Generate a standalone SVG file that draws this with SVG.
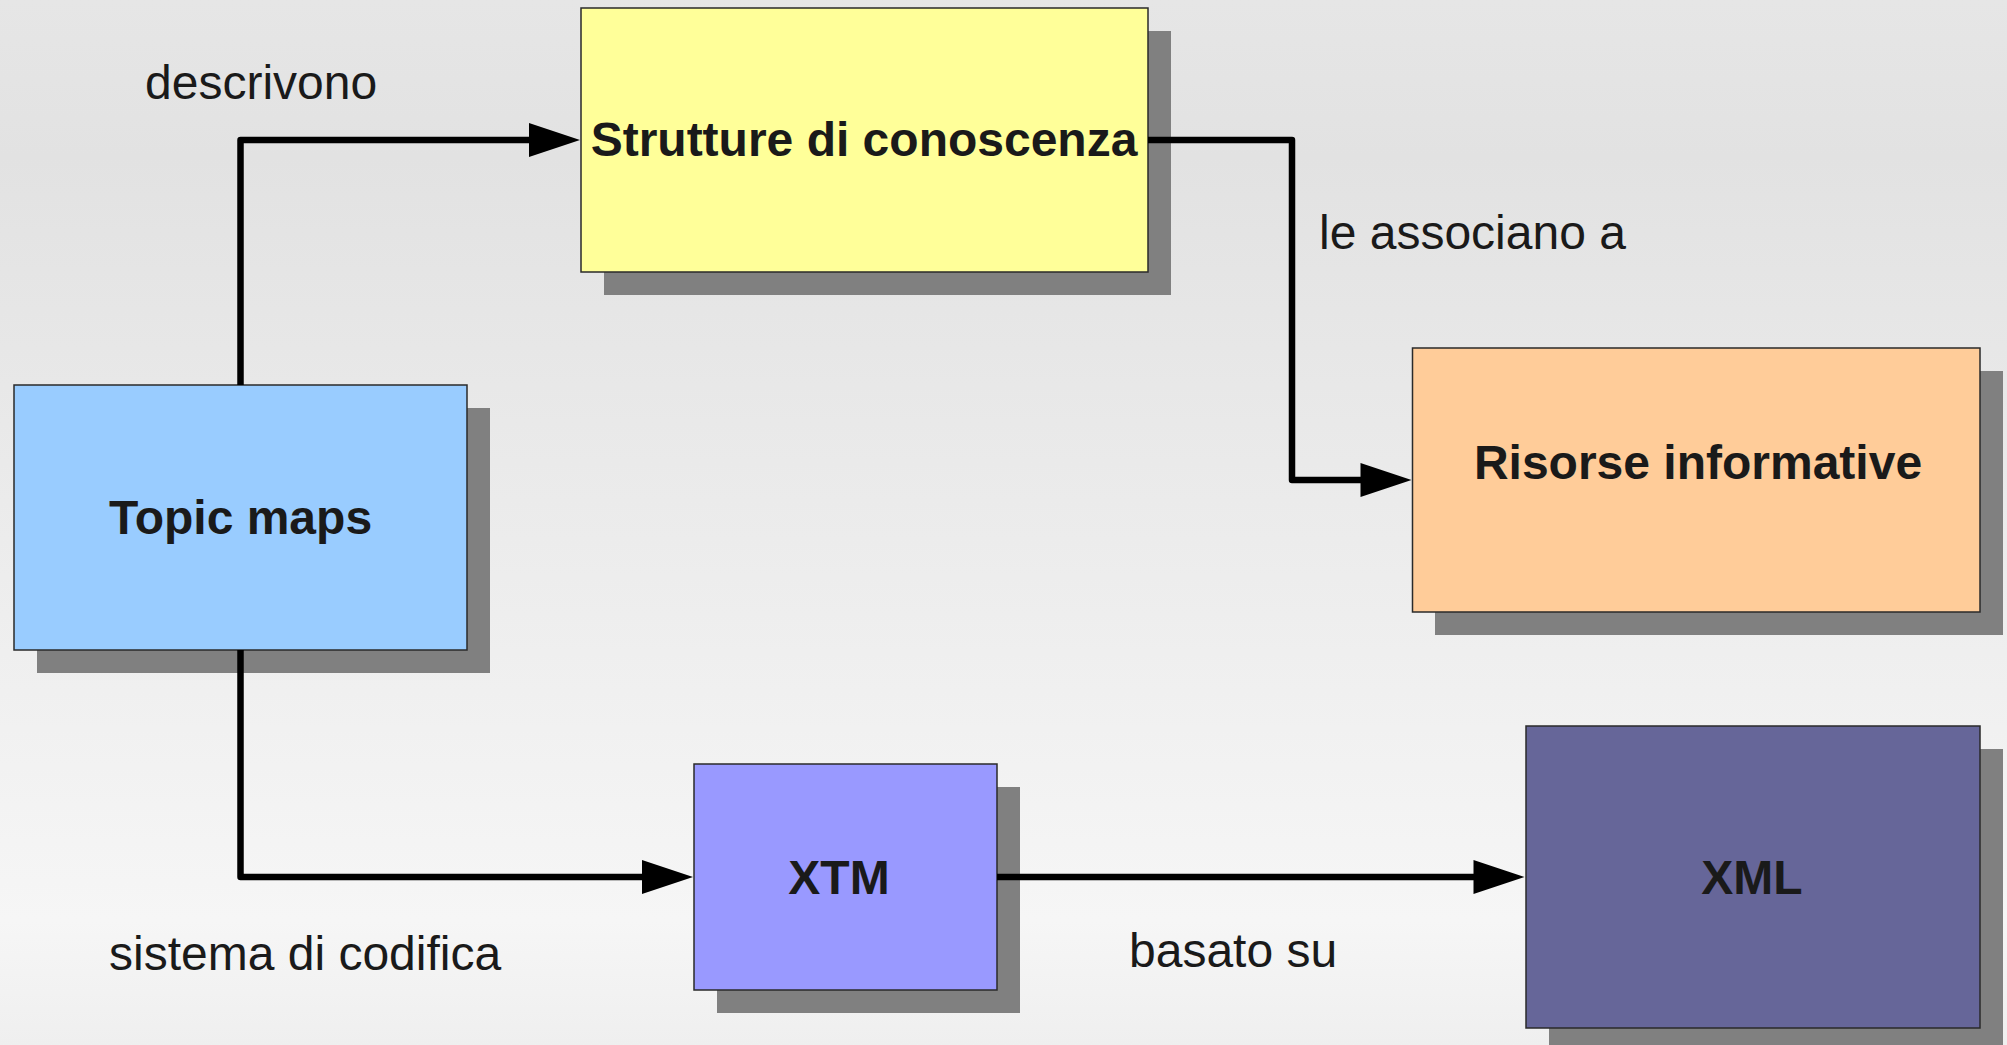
<svg xmlns="http://www.w3.org/2000/svg" width="2007" height="1045" viewBox="0 0 2007 1045">
  <style>
    .box { stroke: #2a2a2a; stroke-width: 1.5; }
    .shadow { fill: #808080; }
    .ntext { font-family: "Liberation Sans", Arial, sans-serif; font-size: 48px; font-weight: bold; fill: #1a1a1a; text-anchor: middle; }
    .label { font-family: "Liberation Sans", Arial, sans-serif; font-size: 48px; fill: #1a1a1a; }
    .conn { fill: none; stroke: #000; stroke-width: 6.5; stroke-linejoin: round; }
  </style>
  <defs>
    <linearGradient id="bg" x1="0" y1="0" x2="0" y2="1">
      <stop offset="0" stop-color="#e6e6e6"/>
      <stop offset="0.15" stop-color="#e2e2e2"/>
      <stop offset="0.88" stop-color="#f6f6f6"/>
      <stop offset="1" stop-color="#efefef"/>
    </linearGradient>
    <marker id="arr" markerUnits="userSpaceOnUse" markerWidth="54" markerHeight="36" refX="1" refY="17" orient="auto" overflow="visible">
      <path d="M0,0 L51,17 L0,34 z" fill="#000"/>
    </marker>
  </defs>
  <rect x="0" y="0" width="2007" height="1045" fill="url(#bg)"/>

  <g id="node-strutture">
    <rect class="shadow" x="604" y="31" width="567" height="264"/>
    <rect class="box" x="581" y="8" width="567" height="264" fill="#ffff99"/>
    <text class="ntext" x="864" y="156">Strutture di conoscenza</text>
  </g>

  <g id="node-topicmaps">
    <rect class="shadow" x="37" y="408" width="453" height="265"/>
    <rect class="box" x="14" y="385" width="453" height="265" fill="#99ccff"/>
    <text class="ntext" x="240.5" y="534">Topic maps</text>
  </g>

  <g id="node-risorse">
    <rect class="shadow" x="1435" y="371" width="568" height="264"/>
    <rect class="box" x="1412.5" y="348" width="567.5" height="264" fill="#ffcc99"/>
    <text class="ntext" x="1698" y="479">Risorse informative</text>
  </g>

  <g id="node-xtm">
    <rect class="shadow" x="717" y="787" width="303" height="226"/>
    <rect class="box" x="694" y="764" width="303" height="226" fill="#9999ff"/>
    <text class="ntext" x="839" y="894">XTM</text>
  </g>

  <g id="node-xml">
    <rect class="shadow" x="1549" y="749" width="454" height="302"/>
    <rect class="box" x="1526" y="726" width="454" height="302" fill="#666699"/>
    <text class="ntext" x="1752" y="894">XML</text>
  </g>

  <g id="connectors">
    <path class="conn" d="M240.5,385 V140 H530" marker-end="url(#arr)"/>
    <path class="conn" d="M1148,140 H1292 V480 H1361.5" marker-end="url(#arr)"/>
    <path class="conn" d="M240.5,650 V877 H643" marker-end="url(#arr)"/>
    <path class="conn" d="M997,877 H1474.5" marker-end="url(#arr)"/>
  </g>

  <g id="labels">
    <text class="label" x="145" y="99">descrivono</text>
    <text class="label" x="1319" y="249">le associano a</text>
    <text class="label" x="109" y="970">sistema di codifica</text>
    <text class="label" x="1129" y="967">basato su</text>
  </g>
</svg>
